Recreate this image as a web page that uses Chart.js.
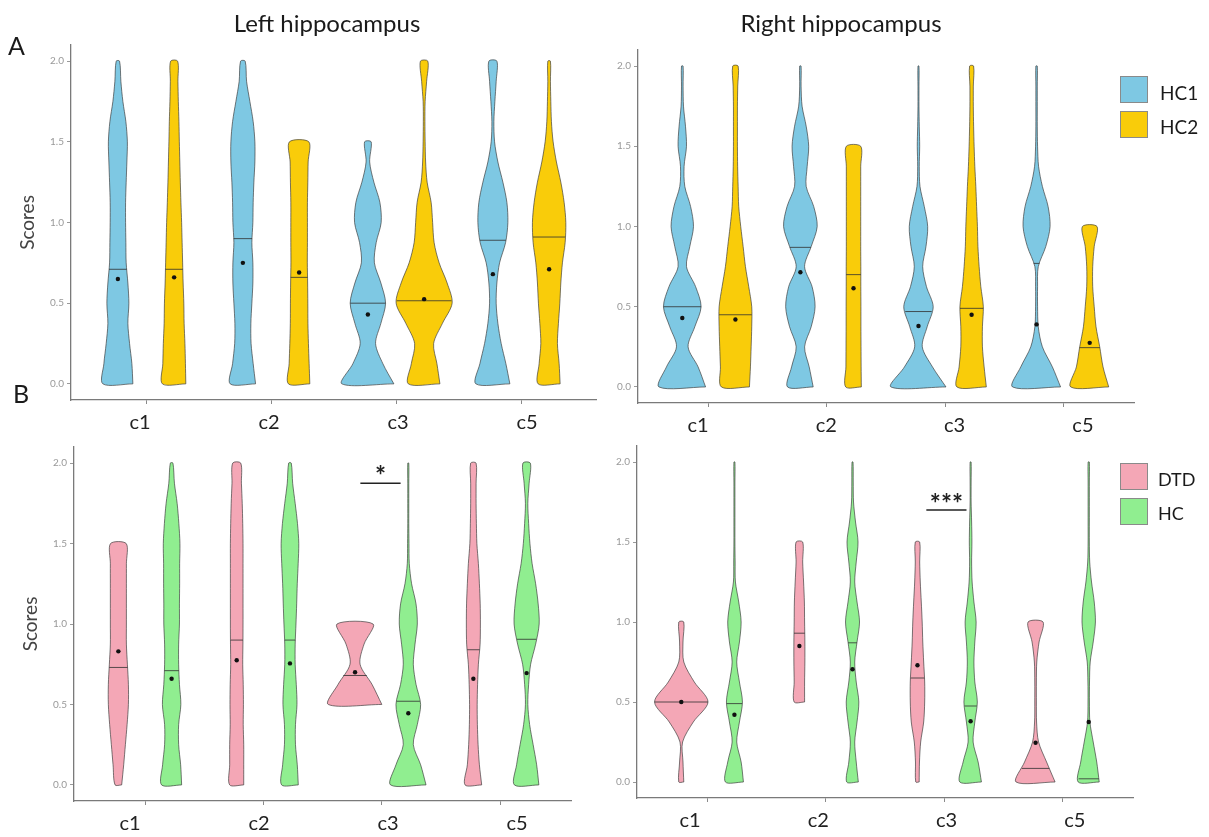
<!DOCTYPE html>
<html><head><meta charset="utf-8">
<script src="https://cdn.jsdelivr.net/npm/chart.js@4.4.1/dist/chart.umd.min.js"></script>
<style>
html,body{margin:0;padding:0;background:#fff;}
#wrap{position:relative;width:1209px;height:837px;overflow:hidden;font-family:Lato,'Open Sans',sans-serif;background:#fff;}
#wrap canvas{position:absolute;left:0;top:0;}
.txt{position:absolute;white-space:nowrap;color:#1a1a1a;line-height:1;}
.key{position:absolute;width:28px;height:27px;box-sizing:border-box;border:1px solid #8a8a8a;}
</style></head><body>
<div id="wrap">
  <canvas id="cTL" width="1209" height="837"></canvas>
  <canvas id="cTR" width="1209" height="837"></canvas>
  <canvas id="cBL" width="1209" height="837"></canvas>
  <canvas id="cBR" width="1209" height="837"></canvas>
  <div class="txt" style="left:327px;top:11px;font-size:24px;transform:translateX(-50%);">Left hippocampus</div>
  <div class="txt" style="left:841px;top:11px;font-size:24px;transform:translateX(-50%);">Right hippocampus</div>
  <div class="txt" style="left:8px;top:33px;font-size:25px;">A</div>
  <div class="txt" style="left:13px;top:381px;font-size:25px;">B</div>
  <div class="key" style="left:1120px;top:76px;background:#7EC8E3;"></div>
  <div class="key" style="left:1120px;top:111px;background:#F9CC0A;"></div>
  <div class="txt" style="left:1160px;top:83px;font-size:19px;">HC1</div>
  <div class="txt" style="left:1160px;top:117px;font-size:19px;">HC2</div>
  <div class="key" style="left:1120px;top:463px;background:#F4A7B6;"></div>
  <div class="key" style="left:1120px;top:498px;background:#90EE90;"></div>
  <div class="txt" style="left:1158px;top:470px;font-size:18px;">DTD</div>
  <div class="txt" style="left:1158px;top:504px;font-size:18px;">HC</div>
</div>
<script>
const N = null;
const categories = ['c1', 'c2', 'c3', 'c5'];
const yTicks = [0, 0.5, 1, 1.5, 2];
const levels = [0, 0.125, 0.25, 0.375, 0.5, 0.625, 0.75, 0.875, 1, 1.125, 1.25, 1.375, 1.5, 1.625, 1.75, 1.875, 2];

// Violin half-widths (density) at each level, one row per category
const densLeftHC1 = [
  [15, 14, 11.7, 10, 11, 10, 8.3, 8, 7.7, 7.7, 8.3, 9, 9.5, 8, 5, 3, 1.7],
  [12.7, 10.3, 8.2, 8, 9, 10, 10, 9, 10, 10.3, 11, 12, 12, 10.3, 7, 3.7, 2.3],
  [26, 15, 7.7, 13, 17.7, 13, 6.5, 8.3, 13.3, 12, 6, 1.8, 3.3, N, N, N, N],
  [17, 13, 8.3, 5, 3.3, 4, 6.7, 12.7, 15, 14, 10, 5, 1.7, 1, 2, 3.3, 4]
];
const densLeftHC2 = [
  [11.7, 11.3, 10.8, 10, 9.7, 9, 8.5, 8, 7.5, 6.8, 6.2, 5.7, 5.2, 4.8, 4.2, 3.8, 3.5],
  [10.7, 10, 9.3, 8.8, 8.7, 8.5, 8.2, 8.3, 8.3, 8.3, 8.7, 9, 9.7, N, N, N, N],
  [15.8, 12.8, 9.5, 18.3, 28, 23, 15, 10, 8.5, 7, 3, 1.5, 1, 0.8, 1, 2.5, 3.7],
  [11, 10, 8.3, 9.3, 10.7, 11.7, 13.3, 16, 16.7, 15, 11.7, 7.3, 4, 2.3, 1.7, 1.3, 1.3]
];
const densRightHC1 = [
  [23.3, 15.8, 5.8, 12.5, 18.8, 13.3, 4.2, 7.5, 11.2, 8.3, 2.5, 1.8, 4.2, 3.2, 1.2, 0.8, 0.8],
  [12.8, 8.8, 4.2, 10.8, 14.7, 11.7, 4.2, 10.8, 16.8, 13.3, 5.8, 6.8, 8.3, 5.8, 1.7, 0.7, 0.7],
  [27.5, 14, 3.8, 8.7, 14.7, 8, 4.2, 7.5, 9.2, 5.8, 1.5, 0.8, 1.2, 0.8, 0.5, 0.5, 0.5],
  [24, 15.8, 5.8, 1.7, 1, 1, 1.7, 9.2, 13.5, 11.5, 5.8, 2, 1, 0.7, 0.7, 0.7, 0.7]
];
const densRightHC2 = [
  [14, 15, 15.7, 16.3, 16.3, 13.3, 10, 7.7, 5.3, 3.3, 2.7, 2.2, 2, 2, 2, 2.3, 2.7],
  [7.8, 7.6, 7.5, 7.4, 7.4, 7.3, 7.3, 7.2, 7.2, 7.2, 7.2, 7.2, 7.2, N, N, N, N],
  [14.7, 12.5, 10.8, 10.8, 11.7, 9.2, 7.5, 6.3, 5.8, 5, 4.2, 3.2, 2.5, 2, 1.7, 1.7, 2],
  [19, 13.3, 10, 6.3, 4.5, 3, 3, 4.5, 7.3, N, N, N, N, N, N, N, N]
];
const densLeftDTD = [
  [3.3, 5.3, 7, 8.7, 10, 10, 9, 8, 8, 8, 8, 8, 7.8, N, N, N, N],
  [7, 7, 7, 6.5, 6.7, 6.5, 6, 6.2, 6.3, 6.3, 6.3, 6.3, 6.3, 6, 5.5, 4.7, 4],
  [N, N, N, N, 26.7, 16.9, 5, 9, 18, N, N, N, N, N, N, N, N],
  [8.3, 6, 4.7, 4, 3.8, 4.2, 5, 6.7, 7, 6.8, 6, 5, 3.5, 3, 2.7, 2.7, 2.7]
];
const densLeftHC = [
  [10, 9, 7, 7, 9.2, 7.8, 7, 7, 7.8, 7.8, 8, 8, 8.3, 7.2, 5.5, 2.8, 1.3],
  [8.3, 7.3, 5.5, 5.5, 7, 6.3, 5.2, 5.2, 6, 6.7, 7.3, 8.2, 8.8, 7.5, 5.2, 2.7, 1.3],
  [17.7, 12.3, 5, 9, 12.3, 7.7, 5, 6.7, 9, 7.7, 3.3, 1, 0.7, 0.5, 0.5, 0.5, 0.5],
  [12.2, 10, 6.5, 3, 1.2, 2, 4, 9, 12.5, 11.5, 9, 5.5, 3.3, 2, 1.2, 2.5, 3.7]
];
const densRightDTD = [
  [2.5, 1.7, 1.3, 12, 26.7, 13, 2.5, 1.7, 2.5, N, N, N, N, N, N, N, N],
  [N, N, N, N, 5.2, 5.2, 5.5, 5.5, 5.2, 5, 4.2, 3.3, 3.3, N, N, N, N],
  [1.7, 2, 3.2, 6.2, 7.2, 7.2, 6.2, 5.3, 4.7, 3.8, 2.8, 2.2, 2.2, N, N, N, N],
  [19.5, 11, 3, 1, 0.8, 0.8, 1.2, 3.5, 7.5, N, N, N, N, N, N, N, N]
];
const densRightHC = [
  [9, 6.7, 2.3, 5, 8, 5, 2.3, 5, 6.7, 4.3, 1, 0.7, 0.5, 0.5, 0.5, 0.5, 0.5],
  [5.8, 3.7, 2.2, 4.5, 6.3, 3.7, 2.2, 4.5, 7, 4.5, 2.2, 3.7, 5.5, 3, 1, 0.7, 0.5],
  [10.8, 7.5, 2.5, 4.2, 6.7, 4.2, 3.3, 4.2, 5.5, 3.3, 1.5, 1, 1.3, 1, 0.5, 0.5, 0.5],
  [10.5, 8, 4.5, 1.2, 0.7, 0.8, 1.5, 4.5, 6.7, 5.5, 2.8, 1, 0.6, 0.6, 0.6, 0.6, 0.6]
];

// Medians and means per category
const medianLeftHC1 = [0.71, 0.90, 0.50, 0.89];
const meanLeftHC1 = [0.65, 0.75, 0.43, 0.68];
const medianLeftHC2 = [0.71, 0.66, 0.515, 0.91];
const meanLeftHC2 = [0.66, 0.69, 0.525, 0.71];
const medianRightHC1 = [0.50, 0.87, 0.47, 0.77];
const meanRightHC1 = [0.43, 0.715, 0.38, 0.39];
const medianRightHC2 = [0.45, 0.70, 0.49, 0.245];
const meanRightHC2 = [0.42, 0.615, 0.45, 0.275];
const medianLeftDTD = [0.73, 0.90, 0.68, 0.84];
const meanLeftDTD = [0.83, 0.775, 0.70, 0.66];
const medianLeftHC = [0.71, 0.90, 0.52, 0.905];
const meanLeftHC = [0.66, 0.755, 0.445, 0.695];
const medianRightDTD = [0.50, 0.93, 0.65, 0.085];
const meanRightDTD = [0.50, 0.85, 0.73, 0.245];
const medianRightHC = [0.49, 0.87, 0.475, 0.02];
const meanRightHC = [0.42, 0.705, 0.38, 0.375];

// Significance marks (panel B, c3)
const sigLeftB = [{ x0: 2.82, x1: 3.16, y: 1.875, textY: 1.913, text: '*' }];
const sigRightB = [{ x0: 2.85, x1: 3.19, y: 1.70, textY: 1.731, text: '***' }];

const COLORS = { HC1: '#7EC8E3', HC2: '#F9CC0A', DTD: '#F4A7B6', HC: '#90EE90' };

const panels = [
  { id: 'cTL', area: { left: 71, right: 596, top: 45, bottom: 400 }, yTitle: true, labelRange: [0.465, 4.535], wScale: 1 / 125,
    groups: [{ dens: densLeftHC1, med: medianLeftHC1, mean: meanLeftHC1, color: COLORS.HC1 },
             { dens: densLeftHC2, med: medianLeftHC2, mean: meanLeftHC2, color: COLORS.HC2 }], sig: [] },
  { id: 'cTR', area: { left: 638, right: 1134, top: 50, bottom: 403 }, yTitle: false, labelRange: [0.532, 4.398], wScale: 1 / 118,
    groups: [{ dens: densRightHC1, med: medianRightHC1, mean: meanRightHC1, color: COLORS.HC1 },
             { dens: densRightHC2, med: medianRightHC2, mean: meanRightHC2, color: COLORS.HC2 }], sig: [] },
  { id: 'cBL', area: { left: 74, right: 571, top: 447, bottom: 801 }, yTitle: true, labelRange: [0.566, 4.419], wScale: 1 / 118,
    groups: [{ dens: densLeftDTD, med: medianLeftDTD, mean: meanLeftDTD, color: COLORS.DTD },
             { dens: densLeftHC, med: medianLeftHC, mean: meanLeftHC, color: COLORS.HC }], sig: sigLeftB },
  { id: 'cBR', area: { left: 637, right: 1133, top: 446, bottom: 798 }, yTitle: false, labelRange: [0.587, 4.453], wScale: 1 / 118,
    groups: [{ dens: densRightDTD, med: medianRightDTD, mean: meanRightDTD, color: COLORS.DTD },
             { dens: densRightHC, med: medianRightHC, mean: meanRightHC, color: COLORS.HC }], sig: sigRightB }
];

const DODGE = 0.225;

function violinPoints(center, dens, k) {
  const right = [], left = [];
  levels.forEach((lv, i) => {
    const d = dens[i];
    if (d == null) return;
    right.push({ x: center + d * k, y: lv });
    left.push({ x: center - d * k, y: lv });
  });
  return right.concat(left.reverse(), [right[0]]);
}
function halfWidthAt(dens, v) {
  for (let i = 0; i < levels.length - 1; i++) {
    if (v >= levels[i] && v <= levels[i + 1]) {
      const a = dens[i], b = dens[i + 1];
      if (a == null || b == null) return (a != null ? a : (b != null ? b : 0));
      const t = (v - levels[i]) / (levels[i + 1] - levels[i]);
      return a + (b - a) * t;
    }
  }
  return 0;
}

const starPlugin = {
  id: 'stars',
  afterDatasetsDraw(chart, args, opts) {
    const items = (opts && opts.items) || [];
    const ctx = chart.ctx, xs = chart.scales.x, ys = chart.scales.y;
    items.forEach(it => {
      ctx.save();
      ctx.font = 'bold 26px Lato, sans-serif';
      ctx.fillStyle = '#222';
      ctx.textAlign = 'center';
      ctx.textBaseline = 'middle';
      ctx.fillText(it.text, xs.getPixelForValue((it.x0 + it.x1) / 2), ys.getPixelForValue(it.textY));
      ctx.restore();
    });
  }
};

const Y_W_TITLE = 59, Y_W = 30, X_H = 5, XL_H = 28;

panels.forEach(p => {
  const datasets = [];
  p.groups.forEach((g, gi) => {
    categories.forEach((c, ci) => {
      const center = ci + 1 + (gi === 0 ? -DODGE : DODGE);
      datasets.push({
        data: violinPoints(center, g.dens[ci], p.wScale),
        showLine: true, fill: 'shape', tension: 0.3,
        backgroundColor: g.color, borderColor: 'rgba(60,60,60,0.85)', borderWidth: 0.8,
        pointRadius: 0, order: 3
      });
      const hw = halfWidthAt(g.dens[ci], g.med[ci]) * p.wScale;
      datasets.push({
        data: [{ x: center - hw, y: g.med[ci] }, { x: center + hw, y: g.med[ci] }],
        showLine: true, fill: false, borderColor: 'rgba(50,50,50,0.9)', borderWidth: 0.9,
        pointRadius: 0, tension: 0, order: 2
      });
      datasets.push({
        data: [{ x: center, y: g.mean[ci] }],
        showLine: false, pointRadius: 2.2, pointBackgroundColor: '#111', pointBorderWidth: 0, order: 1
      });
    });
  });
  p.sig.forEach(s => {
    datasets.push({
      data: [{ x: s.x0, y: s.y }, { x: s.x1, y: s.y }],
      showLine: true, fill: false, borderColor: '#222', borderWidth: 1.6, pointRadius: 0, tension: 0, order: 0
    });
  });
  const yW = p.yTitle ? Y_W_TITLE : Y_W;
  const a = p.area;
  new Chart(document.getElementById(p.id), {
    type: 'scatter',
    data: { datasets },
    plugins: [starPlugin],
    options: {
      responsive: false, animation: false, events: [],
      layout: { padding: { left: a.left - yW, right: 1209 - a.right, top: a.top, bottom: 837 - a.bottom - X_H - XL_H } },
      plugins: { legend: { display: false }, tooltip: { enabled: false }, stars: { items: p.sig } },
      scales: {
        x: {
          type: 'linear', position: 'bottom', min: 0.4, max: 4.6,
          afterBuildTicks: s => { s.ticks = categories.map((c, i) => ({ value: i + 1 })); },
          ticks: { display: false, autoSkip: false },
          grid: { display: true, drawOnChartArea: false, drawTicks: true, tickLength: 4, color: '#8a8a8a', tickColor: '#8a8a8a' },
          border: { display: true, color: '#7a7a7a', width: 1.3 },
          afterFit: s => { s.height = X_H; }
        },
        xl: {
          type: 'linear', position: 'bottom', min: p.labelRange[0], max: p.labelRange[1],
          afterBuildTicks: s => { s.ticks = categories.map((c, i) => ({ value: i + 1 })); },
          ticks: { callback: (v, i) => categories[i], font: { family: 'Lato', size: 20 }, color: '#222', padding: 6, maxRotation: 0, autoSkip: false },
          grid: { display: false, drawTicks: false },
          border: { display: false },
          afterFit: s => { s.height = XL_H; }
        },
        y: {
          type: 'linear', min: -0.1, max: 2.1,
          afterBuildTicks: s => { s.ticks = yTicks.map(v => ({ value: v })); },
          ticks: { callback: v => Number(v).toFixed(1), font: { family: 'Lato', size: 10 }, color: '#999', padding: 3 },
          grid: { display: true, drawOnChartArea: false, drawTicks: true, tickLength: 4, color: '#9a9a9a', tickColor: '#9a9a9a' },
          border: { display: true, color: '#7a7a7a', width: 1.3 },
          title: { display: p.yTitle, text: 'Scores', font: { family: 'Lato', size: 19 }, color: '#444', padding: { top: 4, bottom: 0 } },
          afterFit: s => { s.width = yW; }
        }
      }
    }
  });
});
</script>
</body></html>
